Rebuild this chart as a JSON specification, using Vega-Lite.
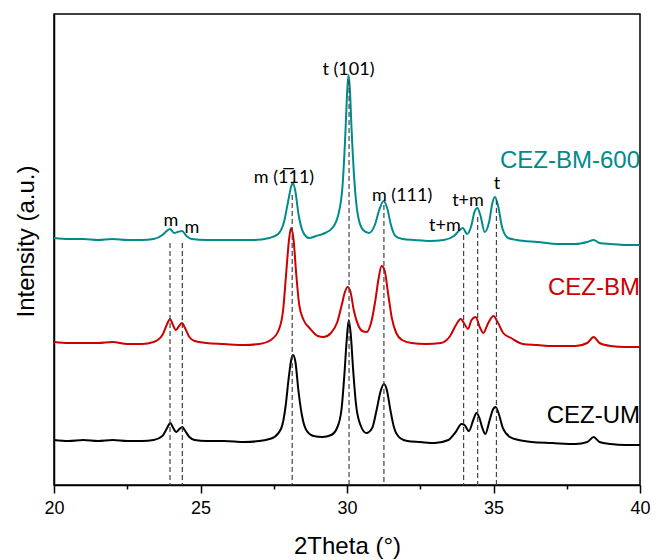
{
  "$schema": "https://vega.github.io/schema/vega-lite/v6.json",
  "width": 586,
  "height": 471,
  "autosize": {"type": "none"},
  "padding": {"left": 54, "top": 14, "right": 16, "bottom": 75},
  "background": "white",
  "config": {
    "view": {"stroke": "black", "strokeWidth": 1.5},
    "axis": {"grid": false, "domainColor": "black", "tickColor": "black", "labelColor": "black", "titleColor": "black", "titleFontWeight": "normal"}
  },
  "datasets": {
    "curves": [
      {"s":"UM","x":20.0,"i":45},{"s":"UM","x":20.5,"i":44},{"s":"UM","x":21.0,"i":45},{"s":"UM","x":21.5,"i":44},{"s":"UM","x":22.0,"i":45},{"s":"UM","x":22.5,"i":44},{"s":"UM","x":23.0,"i":44},{"s":"UM","x":23.4,"i":45},{"s":"UM","x":23.7,"i":49},{"s":"UM","x":23.86,"i":57},{"s":"UM","x":23.97,"i":62},{"s":"UM","x":24.07,"i":57},{"s":"UM","x":24.17,"i":53},{"s":"UM","x":24.28,"i":56},{"s":"UM","x":24.38,"i":58},{"s":"UM","x":24.48,"i":54},{"s":"UM","x":24.62,"i":48},{"s":"UM","x":24.8,"i":45},{"s":"UM","x":25.2,"i":44},{"s":"UM","x":25.8,"i":44},{"s":"UM","x":26.5,"i":43},{"s":"UM","x":27.0,"i":44},
      {"s":"UM","x":27.46,"i":47},{"s":"UM","x":27.76,"i":57},{"s":"UM","x":27.91,"i":80},{"s":"UM","x":28.01,"i":107},{"s":"UM","x":28.11,"i":127},{"s":"UM","x":28.16,"i":130},{"s":"UM","x":28.24,"i":123},{"s":"UM","x":28.34,"i":95},{"s":"UM","x":28.46,"i":70},{"s":"UM","x":28.61,"i":55},{"s":"UM","x":28.86,"i":49},{"s":"UM","x":29.16,"i":48},{"s":"UM","x":29.46,"i":50},{"s":"UM","x":29.66,"i":57},{"s":"UM","x":29.81,"i":75},{"s":"UM","x":29.91,"i":110},{"s":"UM","x":29.99,"i":145},{"s":"UM","x":30.06,"i":165},{"s":"UM","x":30.13,"i":150},{"s":"UM","x":30.21,"i":115},{"s":"UM","x":30.31,"i":80},{"s":"UM","x":30.46,"i":60},{"s":"UM","x":30.66,"i":52},{"s":"UM","x":30.86,"i":57},{"s":"UM","x":31.01,"i":75},{"s":"UM","x":31.14,"i":93},{"s":"UM","x":31.26,"i":101},{"s":"UM","x":31.36,"i":95},{"s":"UM","x":31.48,"i":75},{"s":"UM","x":31.61,"i":57},{"s":"UM","x":31.81,"i":47},{"s":"UM","x":32.06,"i":44},{"s":"UM","x":32.5,"i":43},{"s":"UM","x":33.0,"i":42},{"s":"UM","x":33.46,"i":45},{"s":"UM","x":33.71,"i":53},{"s":"UM","x":33.91,"i":61},{"s":"UM","x":34.01,"i":60},{"s":"UM","x":34.16,"i":54},{"s":"UM","x":34.31,"i":65},{"s":"UM","x":34.42,"i":72},{"s":"UM","x":34.52,"i":67},{"s":"UM","x":34.62,"i":57},{"s":"UM","x":34.72,"i":51},{"s":"UM","x":34.87,"i":65},{"s":"UM","x":34.99,"i":76},{"s":"UM","x":35.07,"i":78},{"s":"UM","x":35.17,"i":72},{"s":"UM","x":35.32,"i":57},{"s":"UM","x":35.56,"i":48},{"s":"UM","x":35.86,"i":45},{"s":"UM","x":36.3,"i":43},{"s":"UM","x":37.0,"i":42},{"s":"UM","x":37.8,"i":41},{"s":"UM","x":38.2,"i":43},{"s":"UM","x":38.42,"i":48},{"s":"UM","x":38.62,"i":43},{"s":"UM","x":39.0,"i":41},{"s":"UM","x":39.5,"i":40},{"s":"UM","x":40.0,"i":40},

      {"s":"BM","x":20.0,"i":143},{"s":"BM","x":20.5,"i":142},{"s":"BM","x":21.0,"i":142},{"s":"BM","x":21.5,"i":142},{"s":"BM","x":22.0,"i":143},{"s":"BM","x":22.5,"i":141},{"s":"BM","x":23.0,"i":141},{"s":"BM","x":23.4,"i":143},{"s":"BM","x":23.7,"i":150},{"s":"BM","x":23.86,"i":161},{"s":"BM","x":23.96,"i":166},{"s":"BM","x":24.06,"i":160},{"s":"BM","x":24.16,"i":155},{"s":"BM","x":24.27,"i":159},{"s":"BM","x":24.37,"i":162},{"s":"BM","x":24.47,"i":157},{"s":"BM","x":24.62,"i":148},{"s":"BM","x":24.8,"i":144},{"s":"BM","x":25.2,"i":142},{"s":"BM","x":25.8,"i":141},{"s":"BM","x":26.5,"i":140},{"s":"BM","x":27.0,"i":141},{"s":"BM","x":27.4,"i":145},{"s":"BM","x":27.67,"i":155},{"s":"BM","x":27.82,"i":175},{"s":"BM","x":27.92,"i":210},{"s":"BM","x":28.02,"i":245},{"s":"BM","x":28.09,"i":257},{"s":"BM","x":28.17,"i":247},{"s":"BM","x":28.27,"i":210},{"s":"BM","x":28.37,"i":180},{"s":"BM","x":28.52,"i":165},{"s":"BM","x":28.72,"i":157},{"s":"BM","x":29.0,"i":149},{"s":"BM","x":29.2,"i":148},{"s":"BM","x":29.45,"i":152},{"s":"BM","x":29.67,"i":163},{"s":"BM","x":29.82,"i":180},{"s":"BM","x":29.93,"i":193},{"s":"BM","x":30.02,"i":198},{"s":"BM","x":30.12,"i":193},{"s":"BM","x":30.23,"i":175},{"s":"BM","x":30.38,"i":160},{"s":"BM","x":30.52,"i":154},{"s":"BM","x":30.67,"i":153},{"s":"BM","x":30.82,"i":162},{"s":"BM","x":30.97,"i":185},{"s":"BM","x":31.07,"i":205},{"s":"BM","x":31.18,"i":219},{"s":"BM","x":31.28,"i":215},{"s":"BM","x":31.41,"i":190},{"s":"BM","x":31.53,"i":167},{"s":"BM","x":31.68,"i":152},{"s":"BM","x":31.88,"i":145},{"s":"BM","x":32.2,"i":142},{"s":"BM","x":32.7,"i":141},{"s":"BM","x":33.2,"i":142},{"s":"BM","x":33.52,"i":149},{"s":"BM","x":33.72,"i":160},{"s":"BM","x":33.88,"i":166},{"s":"BM","x":34.03,"i":160},{"s":"BM","x":34.13,"i":156},{"s":"BM","x":34.25,"i":165},{"s":"BM","x":34.39,"i":168},{"s":"BM","x":34.53,"i":158},{"s":"BM","x":34.65,"i":152},{"s":"BM","x":34.82,"i":162},{"s":"BM","x":35.0,"i":169},{"s":"BM","x":35.14,"i":163},{"s":"BM","x":35.33,"i":152},{"s":"BM","x":35.6,"i":147},{"s":"BM","x":36.0,"i":141},{"s":"BM","x":36.5,"i":140},{"s":"BM","x":37.0,"i":139},{"s":"BM","x":37.8,"i":139},{"s":"BM","x":38.2,"i":142},{"s":"BM","x":38.42,"i":148},{"s":"BM","x":38.62,"i":142},{"s":"BM","x":39.0,"i":139},{"s":"BM","x":39.5,"i":138},{"s":"BM","x":40.0,"i":138},

      {"s":"BM600","x":20.0,"i":247},{"s":"BM600","x":20.5,"i":246},{"s":"BM600","x":21.0,"i":246},{"s":"BM600","x":21.5,"i":245},{"s":"BM600","x":22.0,"i":246},{"s":"BM600","x":22.5,"i":245},{"s":"BM600","x":23.0,"i":245},{"s":"BM600","x":23.4,"i":246},{"s":"BM600","x":23.7,"i":250},{"s":"BM600","x":23.85,"i":254},{"s":"BM600","x":23.96,"i":256},{"s":"BM600","x":24.1,"i":252},{"s":"BM600","x":24.22,"i":253},{"s":"BM600","x":24.37,"i":254},{"s":"BM600","x":24.52,"i":249},{"s":"BM600","x":24.7,"i":246},{"s":"BM600","x":25.2,"i":245},{"s":"BM600","x":26.0,"i":245},{"s":"BM600","x":26.8,"i":245},{"s":"BM600","x":27.35,"i":247},{"s":"BM600","x":27.65,"i":251},{"s":"BM600","x":27.85,"i":263},{"s":"BM600","x":28.0,"i":285},{"s":"BM600","x":28.1,"i":299},{"s":"BM600","x":28.15,"i":302},{"s":"BM600","x":28.23,"i":295},{"s":"BM600","x":28.35,"i":270},{"s":"BM600","x":28.5,"i":253},{"s":"BM600","x":28.7,"i":247},{"s":"BM600","x":28.95,"i":249},{"s":"BM600","x":29.25,"i":252},{"s":"BM600","x":29.5,"i":257},{"s":"BM600","x":29.7,"i":270},{"s":"BM600","x":29.85,"i":300},{"s":"BM600","x":29.95,"i":355},{"s":"BM600","x":30.0,"i":390},{"s":"BM600","x":30.05,"i":410},{"s":"BM600","x":30.1,"i":395},{"s":"BM600","x":30.15,"i":360},{"s":"BM600","x":30.25,"i":305},{"s":"BM600","x":30.37,"i":270},{"s":"BM600","x":30.55,"i":255},{"s":"BM600","x":30.75,"i":252},{"s":"BM600","x":30.95,"i":260},{"s":"BM600","x":31.1,"i":275},{"s":"BM600","x":31.25,"i":284},{"s":"BM600","x":31.37,"i":277},{"s":"BM600","x":31.5,"i":260},{"s":"BM600","x":31.65,"i":249},{"s":"BM600","x":31.9,"i":246},{"s":"BM600","x":32.3,"i":245},{"s":"BM600","x":32.8,"i":244},{"s":"BM600","x":33.3,"i":245},{"s":"BM600","x":33.65,"i":249},{"s":"BM600","x":33.85,"i":255},{"s":"BM600","x":33.95,"i":257},{"s":"BM600","x":34.1,"i":251},{"s":"BM600","x":34.25,"i":260},{"s":"BM600","x":34.35,"i":273},{"s":"BM600","x":34.45,"i":277},{"s":"BM600","x":34.55,"i":270},{"s":"BM600","x":34.7,"i":253},{"s":"BM600","x":34.85,"i":263},{"s":"BM600","x":34.97,"i":283},{"s":"BM600","x":35.05,"i":288},{"s":"BM600","x":35.15,"i":280},{"s":"BM600","x":35.3,"i":257},{"s":"BM600","x":35.5,"i":247},{"s":"BM600","x":35.8,"i":245},{"s":"BM600","x":36.5,"i":243},{"s":"BM600","x":37.2,"i":241},{"s":"BM600","x":37.8,"i":241},{"s":"BM600","x":38.2,"i":243},{"s":"BM600","x":38.42,"i":245},{"s":"BM600","x":38.62,"i":242},{"s":"BM600","x":39.0,"i":241},{"s":"BM600","x":39.5,"i":240},{"s":"BM600","x":40.0,"i":240}
    ],
    "refs": [
      {"x":23.96,"i":242},{"x":24.38,"i":242},{"x":28.13,"i":290},{"x":30.07,"i":405},{"x":31.26,"i":280},{"x":33.98,"i":250},{"x":34.46,"i":268},{"x":35.1,"i":285}
    ],
    "labels": [
      {"t":"t (101)","x":30.05,"i":410},
      {"t":"m (1\u030511)","x":27.85,"i":302},
      {"t":"m (111)","x":31.88,"i":284},
      {"t":"m","x":23.99,"i":259},
      {"t":"m","x":24.71,"i":252},
      {"t":"t+m","x":33.34,"i":254},
      {"t":"t+m","x":34.13,"i":279},
      {"t":"t","x":35.12,"i":296}
    ],
    "names": [
      {"s":"BM600","t":"CEZ-BM-600","x":40,"i":317},
      {"s":"BM","t":"CEZ-BM","x":40,"i":190},
      {"s":"UM","t":"CEZ-UM","x":40,"i":62}
    ]
  },
  "encoding": {
    "x": {
      "field": "x", "type": "quantitative",
      "scale": {"domain": [20, 40], "nice": false, "zero": false},
      "axis": {
        "title": "2Theta (°)",
        "values": [20, 22.5, 25, 27.5, 30, 32.5, 35, 37.5, 40],
        "labelExpr": "datum.value % 5 === 0 ? datum.label : ''",
        "labelFlush": false,
        "labelAlign": "center",
        "labelBound": false,
        "tickSize": {"condition": {"test": "datum.value % 5 === 0", "value": 8}, "value": 4},
        "tickWidth": 1.5,
        "domainWidth": 1.5,
        "labelFont": "Liberation Sans", "labelFontSize": 18, "labelPadding": 6,
        "titleFont": "Liberation Sans", "titleFontSize": 24,
        "titleY": 61, "titleBaseline": "middle"
      }
    },
    "y": {
      "field": "i", "type": "quantitative",
      "scale": {"domain": [0, 471], "nice": false, "zero": false},
      "axis": {
        "title": "Intensity (a.u.)",
        "ticks": false, "labels": false, "domainWidth": 1.5,
        "titleFont": "Liberation Sans", "titleFontSize": 24,
        "titleX": -28, "titleY": 227, "titleAngle": -90,
        "titleAlign": "center", "titleBaseline": "middle"
      }
    }
  },
  "layer": [
    {
      "data": {"name": "curves"},
      "mark": {"type": "line", "strokeWidth": 2, "interpolate": "monotone"},
      "encoding": {
        "color": {"field": "s", "type": "nominal", "scale": {"domain": ["UM", "BM", "BM600"], "range": ["#000000", "#cc0000", "#008b8b"]}, "legend": null},
        "detail": {"field": "s"}
      }
    },
    {
      "data": {"name": "refs"},
      "mark": {"type": "rule", "color": "#444444", "strokeWidth": 1.2, "strokeDash": [5, 3]},
      "encoding": {"y2": {"datum": 0}}
    },
    {
      "data": {"name": "labels"},
      "mark": {"type": "text", "font": "Lato", "fontSize": 18, "color": "black", "align": "center", "baseline": "alphabetic"},
      "encoding": {"text": {"field": "t"}}
    },
    {
      "data": {"name": "names"},
      "mark": {"type": "text", "font": "Liberation Sans", "fontSize": 24, "align": "right", "baseline": "alphabetic"},
      "encoding": {
        "text": {"field": "t"},
        "color": {"field": "s", "type": "nominal", "legend": null}
      }
    }
  ]
}
